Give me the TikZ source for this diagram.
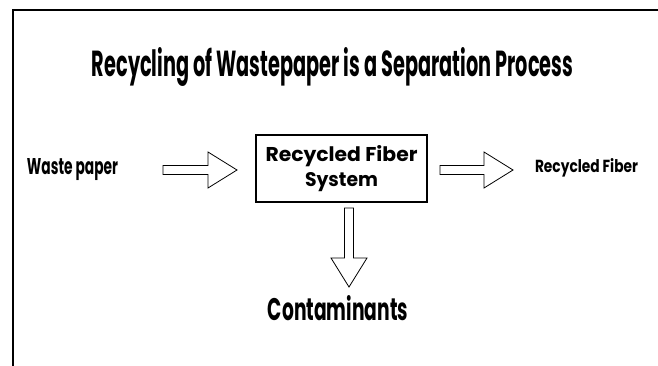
\documentclass[tikz,border=0pt]{standalone}
\usepackage{fontspec}
\setmainfont{Poppins}
\usepackage{graphicx}
\usetikzlibrary{calc}
\newcommand{\fitto}[3]{\resizebox{#1}{#2}{\bfseries #3}}

\begin{document}
\begin{tikzpicture}[x=1pt, y=-1pt,
		lbl/.style={inner sep=0pt, anchor=base},
		sys/.style={rectangle, draw=black, line width=1.2pt, minimum width=171pt, minimum height=67pt, inner sep=0pt, align=center},
		block/.style={draw=black, line width=0.8pt, to path={
				($(\tikztostart)!4.5pt!90:(\tikztotarget)$)
				-- ($($(\tikztotarget)!29pt!(\tikztostart)$)!4.5pt!-90:(\tikztostart)$)
				-- ($($(\tikztotarget)!29pt!(\tikztostart)$)!18pt!-90:(\tikztostart)$)
				-- (\tikztotarget)
				-- ($($(\tikztotarget)!29pt!(\tikztostart)$)!18pt!90:(\tikztostart)$)
				-- ($($(\tikztotarget)!29pt!(\tikztostart)$)!4.5pt!90:(\tikztostart)$)
				-- ($(\tikztostart)!4.5pt!-90:(\tikztotarget)$) -- cycle}}]
		\useasboundingbox (0,0) rectangle (658,366);
		\draw[line width=2.5pt] (13,366) -- (13,10) -- (658,10);
		
		\node[lbl] (1) at (332.5,77) {\fitto{481pt}{29pt}{Recycling of Wastepaper is a Separation Process}};
		\node[lbl] (2) at (72.5,175) {\fitto{91pt}{16pt}{Waste paper}};
		\node[sys] (3) at (341.5,168.5) {\fitto{152pt}{16pt}{Recycled Fiber}\\[5pt]\fitto{73pt}{14pt}{System}};
		\node[lbl] (4) at (586.5,172) {\fitto{103pt}{14pt}{Recycled Fiber}};
		\node[lbl] (5) at (338,320) {\fitto{140pt}{25pt}{Contaminants}};
		\coordinate (6) at (163,170);
		\coordinate (7) at (237,170);
		\coordinate (8) at (440,170);
		\coordinate (9) at (513,170);
		\coordinate (10) at (349,208);
		\coordinate (11) at (349,287);
		
		\path (6) edge[block] (7);
		\path (8) edge[block] (9);
		\path (10) edge[block] (11);
		
	\end{tikzpicture}
\end{document}
